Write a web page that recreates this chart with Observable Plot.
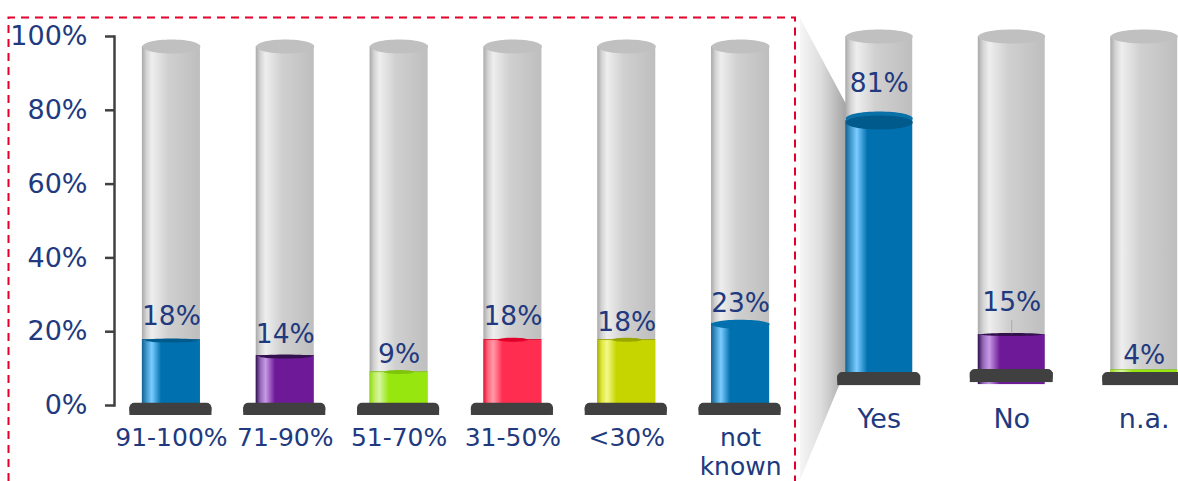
<!DOCTYPE html>
<html>
<head>
<meta charset="utf-8">
<script src="https://cdn.jsdelivr.net/npm/d3@7"></script>
<script src="https://cdn.jsdelivr.net/npm/@observablehq/plot@0.6"></script>
<style>
html,body{margin:0;padding:0;background:#fff;overflow:hidden}
#chart{position:relative;width:1178px;height:481px;overflow:hidden}
#chart>*{position:absolute;left:0;top:0}
</style>
</head>
<body>
<div id="chart">
<svg width="1178" height="481">
  <defs>
    <linearGradient id="wedge" x1="0" x2="1" y1="0" y2="0">
      <stop offset="0" stop-color="#f6f6f6"/><stop offset=".45" stop-color="#dedede"/><stop offset="1" stop-color="#a4a4a4"/>
    </linearGradient>
  </defs>
  <path d="M800 18L846 104L846 372L838 388L800 480Z" fill="url(#wedge)"/>
  <path d="M8.5 481V17.5H795V481" fill="none" stroke="#e4002b" stroke-width="2" stroke-dasharray="8 6"/>
</svg>
</div>
<script>
const categoriesLeft = ["91-100%","71-90%","51-70%","31-50%","<30%","not known"];
const labelsLeft = [18,14,9,18,18,23];
const levelsLeft = [17.6,13.3,8.9,17.6,17.6,22];
const categoriesRight = ["Yes","No","n.a."];
const labelsRight = [81,15,4];
const levelsRight = [75,11.3,0.6];
const tickValues = [0,20,40,60,80,100];
const paletteLeft = ["blue","purple","green","red","yellow","blue"];
const paletteRight = ["blue","purple","green"];

const ink = "#21397e", baseColor = "#404040";
const font = "'DejaVu Sans', Verdana, sans-serif";
const gradients = {
  grey:   [["0","#a9a9a9"],[".08","#d4d4d4"],[".17","#eeeeee"],[".45","#d0d0d0"],["1","#bebebe"]],
  blue:   [["0","#14608f"],[".08","#3f97cc"],[".17","#7bcdff"],[".33","#0070ae"],["1","#0070ae"]],
  purple: [["0","#2e0f4c"],[".08","#9468b8"],[".17","#c79ae6"],[".33","#6e1a98"],["1","#6e1a98"]],
  green:  [["0","#8fd80e"],[".08","#bdec60"],[".17","#d6f6a0"],[".33","#98e610"],["1","#98e610"]],
  red:    [["0","#e0102f"],[".08","#ff6a80"],[".17","#ff9aa8"],[".33","#ff2d4f"],["1","#ff2d4f"]],
  yellow: [["0","#a8b000"],[".08","#e0e840"],[".17","#f4f98a"],[".33","#c6d500"],["1","#c6d500"]]
};
const capColors = {blue:"#005a8c",purple:"#35104f",green:"#7fc40c",red:"#e0002a",yellow:"#9aa600"};

function defs() {
  const s = d3.create("svg:defs");
  for (const [id, stops] of Object.entries(gradients)) {
    const g = s.append("linearGradient").attr("id","g-"+id).attr("x1",0).attr("x2",1).attr("y1",0).attr("y2",0);
    for (const [o,c] of stops) g.append("stop").attr("offset",o).attr("stop-color",c);
  }
  return s.node();
}
// An ellipse symbol for the cylinder caps
const ellipse = (rx, ry) => ({draw(c){
  const k = 0.5523;
  c.moveTo(-rx,0);
  c.bezierCurveTo(-rx,-ry*k,-rx*k,-ry,0,-ry);
  c.bezierCurveTo(rx*k,-ry,rx,-ry*k,rx,0);
  c.bezierCurveTo(rx,ry*k,rx*k,ry,0,ry);
  c.bezierCurveTo(-rx*k,ry,-rx,ry*k,-rx,0);
  c.closePath();
}});

const table = (cats, labels, levels, palette) => cats.map((c,i)=>({c,label:labels[i],level:levels[i],key:palette[i]}));
const left = table(categoriesLeft, labelsLeft, levelsLeft, paletteLeft);
const right = table(categoriesRight, labelsRight, levelsRight, paletteRight);
const capFill = {value:d=>capColors[d.key],scale:null};

const plotL = Plot.plot({
  width:797,height:481,marginLeft:114,marginRight:0,marginTop:36,marginBottom:76,
  style:{maxWidth:"none",background:"transparent",overflow:"visible"},
  x:{domain:categoriesLeft,paddingInner:0.49,paddingOuter:0.245,round:false,label:null},
  y:{domain:[0,100],label:null},
  marks:[
    defs,
    Plot.frame({anchor:"left",stroke:baseColor,strokeWidth:2.5}),
    Plot.axisY({ticks:tickValues,tickFormat:d=>d+"%",tickSize:9,tickPadding:18,stroke:baseColor,strokeWidth:2.5,strokeOpacity:1,
      fill:ink,fontSize:27,fontFamily:font,label:null}),
    Plot.axisX({tickSize:0,tickPadding:20,fill:ink,fontSize:25,fontFamily:font,label:null,lineHeight:1.16,
      tickFormat:d=>d.replace(" ","\n")}),
    Plot.barY(left,{x:"c",y1:0,y2:97.3,fill:"url(#g-grey)"}),
    Plot.dot(left,{x:"c",y:97.3,symbol:ellipse(29,7),fill:"#c0c0c0",stroke:"none"}),
    Plot.barY(left,{x:"c",y1:0,y2:"level",fill:{value:d=>`url(#g-${d.key})`,scale:null}}),
    Plot.barY(left,{x:"c",y1:"level",y2:d=>d.level+0.25,fill:capFill}),
    Plot.dot(left.filter(d=>d.c==="not known"),{x:"c",y:"level",symbol:ellipse(29,4.5),fill:"#0070ae",stroke:"none"}),
    Plot.dot(left.filter(d=>d.key==="blue"&&d.c!=="not known"||d.key==="purple"),{x:"c",y:"level",symbol:ellipse(26,2),fill:capFill,stroke:"none"}),
    Plot.dot(left.filter(d=>["green","red","yellow"].includes(d.key)),{x:"c",y:d=>d.level+0.2,symbol:ellipse(15,2),fill:capFill,stroke:"none"}),
    Plot.barY(left,{x:"c",y1:0.6,y2:-2.7,fill:baseColor,insetLeft:-12.5,insetRight:-11.5,rx:5}),
    Plot.barY(left,{x:"c",y1:-0.6,y2:-2.7,fill:baseColor,insetLeft:-12.5,insetRight:-11.5}),
    Plot.text(left,{x:"c",y:d=>d.level+({"71-90%":6,"51-70%":5,"<30%":5,"not known":5.7}[d.c] ?? 6.5),text:d=>d.label+"%",fill:ink,fontSize:26.5,fontFamily:font})
  ]
});
const plotR = Plot.plot({
  width:1210,height:481,marginLeft:812.5,marginRight:0,marginTop:36,marginBottom:109,
  style:{maxWidth:"none",background:"transparent",overflow:"visible"},
  x:{domain:categoriesRight,paddingInner:0.495,paddingOuter:0.2475,round:false,label:null},
  y:{domain:[0,100],label:null,axis:null},
  marks:[
    defs,
    Plot.axisX({tickSize:0,tickPadding:36,fill:ink,fontSize:27,fontFamily:font,label:null}),
    Plot.barY(right,{x:"c",y1:0,y2:100,fill:"url(#g-grey)"}),
    Plot.dot(right,{x:"c",y:100,symbol:ellipse(33.5,7),fill:"#c0c0c0",stroke:"none"}),
    Plot.barY(right,{x:"c",y1:d=>d.c==="No"?-3.6:0,y2:"level",fill:{value:d=>`url(#g-${d.key})`,scale:null}}),
    Plot.dot(right.filter(d=>d.c==="Yes"),{x:"c",y:d=>d.level+0.6,symbol:ellipse(33.5,7),fill:"#0a70a8",stroke:"none"}),
    Plot.dot(right.filter(d=>d.c==="Yes"),{x:"c",y:d=>d.level-0.6,symbol:ellipse(33.5,7),fill:"#005a8c",stroke:"none"}),
    Plot.dot(right.filter(d=>d.c==="No"),{x:"c",y:"level",symbol:ellipse(31,1.5),fill:"#35104f",stroke:"none"}),
    Plot.barY(right.filter(d=>d.c==="n.a."),{x:"c",y1:"level",y2:d=>d.level+0.2,fill:"#7fc40c"}),
    Plot.barY(right,{x:"c",y1:d=>d.c==="No"?0.9:0,y2:d=>d.c==="No"?-3:-3.9,fill:baseColor,insetLeft:-8,insetRight:-8,rx:5}),
    Plot.barY(right,{x:"c",y1:d=>d.c==="No"?0:-1,y2:d=>d.c==="No"?-3:-3.9,fill:baseColor,insetLeft:-8,insetRight:-8}),
    Plot.text(right,{x:"c",y:d=>d.level+({Yes:11,No:9.5,"n.a.":4.5}[d.c]),text:d=>d.label+"%",fill:ink,fontSize:26.5,fontFamily:font}),
    Plot.ruleX(["No"],{y1:11.5,y2:15.5,stroke:"#aaaaaa",strokeWidth:1})
  ]
});
document.getElementById("chart").append(plotL,plotR);
</script>
</body>
</html>
